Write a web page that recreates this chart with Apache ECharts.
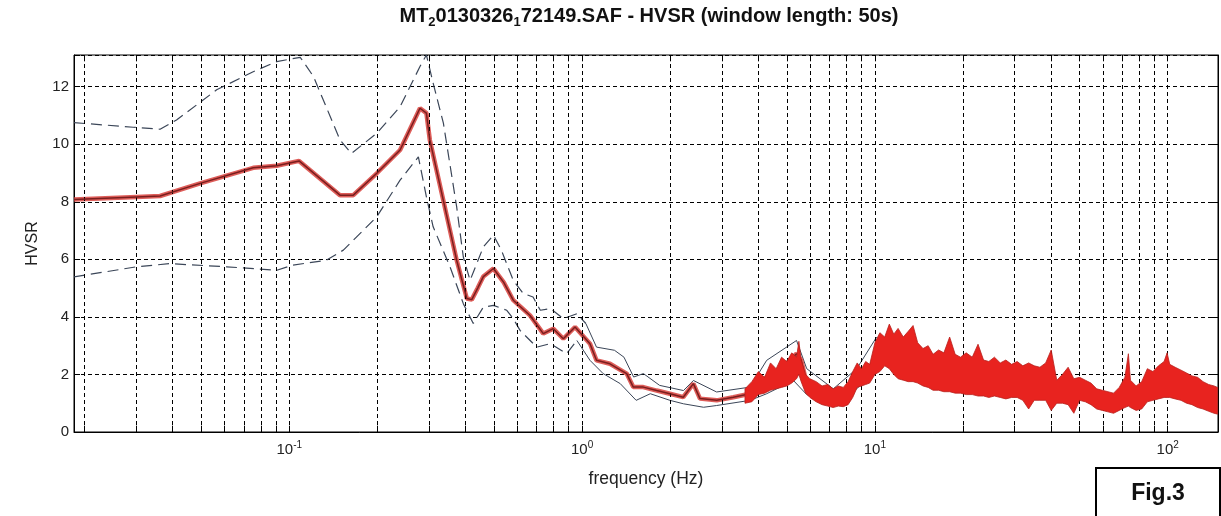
<!DOCTYPE html>
<html>
<head>
<meta charset="utf-8">
<script src="https://cdn.jsdelivr.net/npm/echarts@6/dist/echarts.min.js"></script>
<style>
html,body{margin:0;padding:0;background:#fff;}
#c{width:1221px;height:516px;}
</style>
</head>
<body>
<div id="c"></div>
<script>
// ---- data ----
const X_MIN = 0.0184, X_MAX = 148.5, Y_MIN = 0, Y_MAX = 13.1;

const meanFreq = [0.0184,0.0301,0.0362,0.0496,0.0753,0.0906,0.108,0.149,0.1655,0.199,0.239,0.2795,0.294,0.302,0.373,0.404,0.42,0.44,0.46,0.498,0.54,0.582,0.664,0.737,0.797,0.863,0.946,1.064,1.12,1.245,1.42,1.496,1.618,1.798,1.995,2.216,2.399,2.527,2.883,3.284,3.745,4.27,4.86,5.4,5.6,5.85,6.5,7.2,8.0,8.67,9.38,10.1,10.9];
const meanHV   = [8.08,8.17,8.2,8.64,9.18,9.25,9.42,8.23,8.23,8.99,9.8,11.25,11.08,10.15,5.97,4.64,4.6,5.0,5.4,5.68,5.2,4.58,4.05,3.42,3.59,3.24,3.65,3.07,2.49,2.37,2.03,1.56,1.56,1.44,1.33,1.21,1.68,1.16,1.10,1.21,1.33,1.91,2.26,2.72,2.5,1.68,1.33,1.21,1.27,1.91,2.03,2.6,2.9];

const stdHiFreq = [0.0184,0.0293,0.0362,0.0412,0.0565,0.0753,0.0906,0.109,0.121,0.149,0.163,0.199,0.239,0.2795,0.294,0.31,0.336,0.373,0.393,0.4145,0.46,0.498,0.53,0.582,0.63,0.68,0.72,0.78,0.863,0.96,1.03,1.12,1.29,1.39,1.5,1.62,1.84,2.22,2.4,2.88,3.75,4.27,5.4,5.85,7.21,8.67,10.14];
const stdHiHV   = [10.75,10.59,10.52,10.84,11.89,12.52,12.87,13.02,12.35,10.15,9.68,10.38,11.3,12.7,13.1,12.12,10.73,7.82,6.08,5.27,6.43,6.84,6.32,5.27,4.81,4.69,4.23,4.29,3.94,4.11,3.77,2.95,2.84,2.6,1.91,2.03,1.62,1.44,1.79,1.39,1.56,2.49,3.18,2.2,1.5,2.2,3.3];

const stdLoFreq = [0.0184,0.0301,0.039,0.0611,0.0906,0.103,0.134,0.153,0.199,0.239,0.276,0.294,0.31,0.354,0.393,0.425,0.46,0.498,0.553,0.582,0.614,0.7,0.78,0.885,0.96,1.064,1.18,1.35,1.53,1.71,1.995,2.22,2.6,2.88,3.75,4.27,5.27,5.85,7.21,8.67,10.14];
const stdLoHV   = [5.39,5.74,5.85,5.74,5.62,5.8,5.97,6.32,7.48,8.75,9.56,8.17,7.13,5.74,4.46,3.77,4.34,4.4,4.23,3.94,3.53,2.95,3.07,2.72,3.18,2.49,2.03,1.68,1.1,1.33,1.10,0.98,0.86,0.92,1.1,1.33,1.79,1.3,0.95,1.5,2.2];

// spread of the individual-window curves at high frequency (upper / lower edge of the red band)
const bandFreq = [3.6,3.8,4.0,4.2,4.4,4.6,4.8,5.0,5.2,5.4,5.5,5.6,5.8,6.0,6.3,6.6,6.9,7.2,7.5,7.8,8.1,8.4,8.7,9.0,9.3,9.6,10.0,10.4,10.8,11.2,11.6,12.0,12.5,13,13.5,14,14.6,15.2,15.8,16.5,17.2,18,18.8,19.6,20.5,21.5,22.5,23.5,24.5,25.6,26.8,28,29.3,30.6,32,33.5,35,36.6,38.3,40,41.8,43.7,45.7,47.8,50,52.3,54.7,57.2,59.8,62.5,65.3,68.3,71.4,73.4,74.6,78,81.5,85.2,89,93,97.2,99.5,101.6,106,111,116,121,126.5,132,138,144,148];
const bandHi   = [1.5,1.75,2.1,1.9,2.4,2.2,2.6,2.45,2.75,2.6,3.15,2.5,2.0,1.85,1.75,1.6,1.65,1.5,1.6,1.55,1.75,2.1,2.4,2.2,2.45,2.35,3.1,3.45,3.3,3.75,3.4,3.6,3.3,3.5,3.7,3.1,2.9,3.0,2.7,2.85,2.75,3.3,2.7,2.6,2.75,2.6,3.05,2.5,2.45,2.6,2.4,2.5,2.35,2.45,2.3,2.4,2.3,2.25,2.4,2.85,1.8,2.0,2.25,1.85,1.9,1.8,1.7,1.5,1.45,1.4,1.35,1.55,1.9,2.72,1.8,1.6,1.75,2.2,2.1,2.3,2.45,2.75,2.35,2.25,2.15,2.05,1.95,1.9,1.75,1.65,1.6,1.55];
const bandLo   = [1.0,1.05,1.3,1.35,1.45,1.5,1.55,1.6,1.7,1.85,2.0,1.75,1.35,1.2,1.05,0.95,0.9,0.85,0.9,0.88,0.95,1.2,1.55,1.6,1.65,1.7,2.0,2.1,2.3,2.2,2.0,1.85,1.8,1.75,1.75,1.7,1.6,1.55,1.45,1.45,1.4,1.4,1.35,1.35,1.3,1.3,1.25,1.25,1.2,1.25,1.2,1.15,1.2,1.2,1.1,0.8,1.1,1.1,1.1,0.75,1.0,1.0,0.95,0.65,1.1,1.05,0.95,0.8,0.75,0.7,0.65,0.75,0.85,0.9,0.85,0.75,0.8,1.05,1.1,1.15,1.2,1.2,1.2,1.15,1.1,1.0,0.95,0.85,0.8,0.72,0.65,0.62];

const gridFreqs = [0.02,0.03,0.04,0.05,0.06,0.07,0.08,0.09,0.1,0.2,0.3,0.4,0.5,0.6,0.7,0.8,0.9,1,2,3,4,5,6,7,8,9,10,20,30,40,50,60,70,80,90,100];

const titleParts = ['MT', '2', '0130326', '1', '72149.SAF - HVSR (window length: 50s)'];
const xName = 'frequency (Hz)';
const yName = 'HVSR';
const figLabel = 'Fig.3';

// ---- chart ----
const pairs = (fs, vs) => fs.map((f, i) => [f, vs[i]]);
const SPLIT = 1.05;
const FONT = '"Liberation Sans", Arial, sans-serif';

const chart = echarts.init(document.getElementById('c'), null, {renderer: 'canvas'});

const gridLineStyle = {type: [4, 3], color: '#000', width: 1};
const tickLen = 0.22;

const option = {
  animation: false,
  backgroundColor: '#fff',
  title: {
    left: 644, top: -1, textAlign: 'center',
    text: '{n|' + titleParts[0] + '}{s|' + titleParts[1] + '}{n|' + titleParts[2] + '}{s|' + titleParts[3] + '}{n|' + titleParts[4] + '}',
    textStyle: {
      rich: {
        n: {fontFamily: FONT, fontWeight: 'bold', fontSize: 20, color: '#111'},
        s: {fontFamily: FONT, fontWeight: 'bold', fontSize: 13, color: '#111', padding: [12, 0, 0, 0]}
      }
    }
  },
  grid: {left: 74, right: 3, top: 55, bottom: 84, show: true, borderColor: '#000', borderWidth: 1, backgroundColor: '#fff'},
  xAxis: {
    type: 'log', logBase: 10, min: X_MIN, max: X_MAX,
    name: xName, nameLocation: 'middle', nameGap: 38,
    nameTextStyle: {fontFamily: FONT, fontSize: 17.5, color: '#222'},
    axisLine: {show: true, lineStyle: {color: '#000', width: 1}},
    axisTick: {show: false},
    splitLine: {show: false},
    axisLabel: {
      margin: 8,
      formatter: v => {
        const l = Math.log10(v), e = Math.round(l);
        if (Math.abs(l - e) > 1e-6) return '';
        return '{b|10}{s|' + e + '}';
      },
      rich: {
        b: {fontFamily: FONT, fontSize: 15, color: '#222'},
        s: {fontFamily: FONT, fontSize: 10, color: '#222', padding: [0, 0, 9, 0]}
      }
    }
  },
  yAxis: [{
    type: 'value', min: Y_MIN, max: Y_MAX, interval: 2,
    name: yName, nameLocation: 'middle', nameGap: 33, nameRotate: 90,
    nameTextStyle: {fontFamily: FONT, fontSize: 16, color: '#222'},
    axisLine: {show: true, lineStyle: {color: '#000'}},
    axisTick: {show: true, inside: true, length: 6, lineStyle: {color: '#000'}},
    axisLabel: {fontFamily: FONT, fontSize: 15, color: '#222', margin: 5, formatter: v => (Math.abs(v % 2) < 1e-9 ? String(v) : '')},
    splitLine: {show: true, lineStyle: gridLineStyle}
  }, {
    type: 'value', min: Y_MIN, max: Y_MAX, interval: 2, position: 'right',
    axisLine: {show: true, lineStyle: {color: '#000'}},
    axisTick: {show: true, inside: true, length: 6, lineStyle: {color: '#000'}},
    axisLabel: {show: false}, splitLine: {show: false}
  }],
  series: [
    {
      name: 'grid', type: 'line', data: [[1, -5]], symbol: 'none', lineStyle: {width: 0}, silent: true, z: 1,
      markLine: {
        silent: true, symbol: ['none', 'none'], label: {show: false}, animation: false,
        lineStyle: gridLineStyle,
        data: gridFreqs.map(f => ({xAxis: f}))
      }
    },
    {
      name: 'ticks', type: 'line', data: [[1, -5]], symbol: 'none', lineStyle: {width: 0}, silent: true, z: 1,
      markLine: {
        silent: true, symbol: ['none', 'none'], label: {show: false}, animation: false,
        lineStyle: {type: 'solid', color: '#000', width: 1},
        data: gridFreqs.map(f => [{coord: [f, Y_MIN]}, {coord: [f, Y_MIN + tickLen]}])
          .concat(gridFreqs.map(f => [{coord: [f, Y_MAX]}, {coord: [f, Y_MAX - tickLen]}]))
      }
    },
    {
      name: 'std+ dashed', type: 'line', symbol: 'none', z: 3,
      data: pairs(stdHiFreq, stdHiHV).filter(p => p[0] <= SPLIT),
      lineStyle: {color: '#3b4658', width: 1.2, type: [11, 6]}
    },
    {
      name: 'std- dashed', type: 'line', symbol: 'none', z: 3,
      data: pairs(stdLoFreq, stdLoHV).filter(p => p[0] <= SPLIT),
      lineStyle: {color: '#3b4658', width: 1.2, type: [11, 6]}
    },
    {
      name: 'std+', type: 'line', symbol: 'none', z: 3,
      data: pairs(stdHiFreq, stdHiHV).filter(p => p[0] >= 1.0),
      lineStyle: {color: '#3b4658', width: 1}
    },
    {
      name: 'std-', type: 'line', symbol: 'none', z: 3,
      data: pairs(stdLoFreq, stdLoHV).filter(p => p[0] >= 0.95),
      lineStyle: {color: '#3b4658', width: 1}
    },
    {
      name: 'mean halo', type: 'line', symbol: 'none', z: 4,
      data: pairs(meanFreq, meanHV),
      lineStyle: {color: '#d8413c', width: 4.5, opacity: 0.85}
    },
    {
      name: 'mean', type: 'line', symbol: 'none', z: 5,
      data: pairs(meanFreq, meanHV),
      lineStyle: {color: '#7a1e1e', width: 1.5}
    },
    {
      name: 'band', type: 'custom', z: 6, silent: true,
      data: [[1, 1]],
      renderItem: (params, api) => {
        const pts = bandFreq.map((f, i) => api.coord([f, bandHi[i]]))
          .concat(bandFreq.map((f, i) => api.coord([f, bandLo[i]])).reverse());
        return {type: 'polygon', shape: {points: pts}, style: {fill: '#e8231f', stroke: '#b8201c', lineWidth: 0.8}};
      }
    }
  ],
  graphic: [{
    type: 'group', left: 1095, top: 467,
    children: [
      {type: 'rect', shape: {x: 0, y: 0, width: 124, height: 60}, style: {fill: '#fff', stroke: '#000', lineWidth: 2}},
      {type: 'text', x: 62, y: 26, style: {text: figLabel, fontFamily: FONT, fontWeight: 'bold', fontSize: 23, fill: '#111', textAlign: 'center', textVerticalAlign: 'middle'}}
    ]
  }]
};
chart.setOption(option);
</script>
</body>
</html>
